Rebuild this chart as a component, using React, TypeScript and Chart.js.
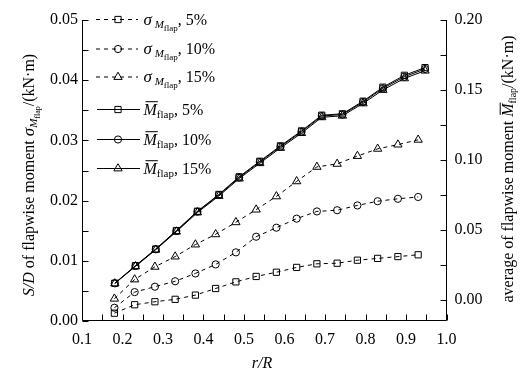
import { useEffect, useRef } from "react";
import { Chart, registerables } from "chart.js";

Chart.register(...registerables);

const rSigma = [0.18, 0.23, 0.28, 0.33, 0.38, 0.43, 0.48, 0.53, 0.58, 0.63, 0.68, 0.73, 0.78, 0.83, 0.88, 0.93];
const rMean = [0.181, 0.232, 0.282, 0.333, 0.385, 0.438, 0.488, 0.539, 0.59, 0.642, 0.692, 0.743, 0.794, 0.843, 0.896, 0.947];

const sigma5 = [0.0013, 0.0027, 0.0032, 0.0036, 0.0043, 0.0054, 0.0065, 0.0074, 0.0081, 0.0089, 0.0095, 0.0096, 0.0101, 0.0104, 0.0107, 0.011];
const sigma10 = [0.0022, 0.0048, 0.0057, 0.0066, 0.0079, 0.0094, 0.0114, 0.014, 0.0155, 0.017, 0.0182, 0.0184, 0.0192, 0.0199, 0.0203, 0.0206];
const sigma15 = [0.0037, 0.0069, 0.009, 0.0107, 0.0127, 0.0144, 0.0164, 0.0185, 0.0207, 0.0232, 0.0256, 0.0261, 0.0274, 0.0286, 0.0293, 0.0301];

const mean5 = [0.012, 0.0245, 0.0364, 0.0496, 0.0634, 0.0754, 0.088, 0.0991, 0.1101, 0.1208, 0.132, 0.133, 0.142, 0.152, 0.1605, 0.166];
const mean10 = [0.0119, 0.0243, 0.0362, 0.0493, 0.0631, 0.075, 0.0875, 0.0986, 0.1095, 0.1202, 0.1314, 0.1325, 0.1414, 0.1512, 0.1595, 0.165];
const mean15 = [0.0118, 0.024, 0.0359, 0.0488, 0.0625, 0.0743, 0.0867, 0.0977, 0.1086, 0.1192, 0.1305, 0.1316, 0.1404, 0.15, 0.1583, 0.1638];

const xTicks = [0.1, 0.2, 0.3, 0.4, 0.5, 0.6, 0.7, 0.8, 0.9, 1.0];
const leftTicks = [0, 0.01, 0.02, 0.03, 0.04, 0.05];
const rightTicks = [0, 0.05, 0.1, 0.15, 0.2];
const pctLabels = ["5%", "10%", "15%"];

const SERIF = '"Liberation Serif", "Times New Roman", serif';
const styles = ["rect", "circle", "triangle"] as const;
const radii = [4.4, 3.6, 4.8];

type Part = { t: string; size: number; italic?: boolean; dy?: number; over?: boolean };

function fontOf(p: Part) {
  return `${p.italic ? "italic " : ""}${p.size}px ${SERIF}`;
}

function richWidth(ctx: CanvasRenderingContext2D, parts: Part[]) {
  let w = 0;
  for (const p of parts) {
    ctx.font = fontOf(p);
    w += ctx.measureText(p.t).width;
  }
  return w;
}

function drawRich(ctx: CanvasRenderingContext2D, parts: Part[], x: number, y: number, center: boolean) {
  let cx = center ? x - richWidth(ctx, parts) / 2 : x;
  ctx.fillStyle = "#000";
  ctx.textBaseline = "alphabetic";
  ctx.textAlign = "left";
  for (const p of parts) {
    ctx.font = fontOf(p);
    const w = ctx.measureText(p.t).width;
    ctx.fillText(p.t, cx, y + (p.dy || 0));
    if (p.over) {
      ctx.save();
      ctx.strokeStyle = "#000";
      ctx.lineWidth = 1;
      ctx.beginPath();
      const oy = y + (p.dy || 0) - p.size * 0.8;
      ctx.moveTo(cx + 2, oy);
      ctx.lineTo(cx + w + 1, oy);
      ctx.stroke();
      ctx.restore();
    }
    cx += w;
  }
}

function drawMarker(ctx: CanvasRenderingContext2D, style: string, x: number, y: number, r: number) {
  ctx.beginPath();
  if (style === "rect") {
    const s = Math.SQRT1_2 * r;
    ctx.rect(x - s, y - s, 2 * s, 2 * s);
  } else if (style === "circle") {
    ctx.arc(x, y, r, 0, Math.PI * 2);
  } else {
    ctx.moveTo(x, y - r);
    ctx.lineTo(x + 0.866 * r, y + 0.5 * r);
    ctx.lineTo(x - 0.866 * r, y + 0.5 * r);
    ctx.closePath();
  }
  ctx.stroke();
}

const decorPlugin = {
  id: "decor",
  afterDraw(chart: any) {
    const ctx: CanvasRenderingContext2D = chart.ctx;
    const { left, right, top, bottom } = chart.chartArea;
    const sx = chart.scales.x;
    const sy = chart.scales.y;
    const sy1 = chart.scales.y1;
    ctx.save();
    ctx.strokeStyle = "#000";
    ctx.lineWidth = 1;
    ctx.setLineDash([]);
    const L = Math.round(left) + 0.5;
    const R = Math.round(right) - 0.5;
    const B = Math.round(bottom) - 0.5;
    const T = Math.round(top);
    ctx.beginPath();
    ctx.moveTo(L, T);
    ctx.lineTo(L, B);
    ctx.lineTo(R, B);
    ctx.lineTo(R, T);
    ctx.stroke();
    const tl = 6;
    ctx.beginPath();
    for (let v = 0.1; v <= 1.0001; v += 0.05) {
      const px = Math.round(sx.getPixelForValue(v)) + 0.5;
      ctx.moveTo(px, B);
      ctx.lineTo(px, B - tl);
    }
    for (let v = 0; v <= 0.05001; v += 0.005) {
      const py = Math.round(sy.getPixelForValue(v)) + 0.5;
      ctx.moveTo(L, py);
      ctx.lineTo(L + tl, py);
    }
    for (let v = 0; v <= 0.20001; v += 0.025) {
      const py = Math.round(sy1.getPixelForValue(v)) + 0.5;
      ctx.moveTo(R, py);
      ctx.lineTo(R - tl, py);
    }
    ctx.stroke();

    // legend
    const rows = [19.5, 49, 77, 109.5, 139.5, 168.5];
    const mx = 118;
    for (let i = 0; i < 6; i++) {
      const y = rows[i];
      const k = i % 3;
      ctx.lineWidth = 1;
      if (i < 3) {
        ctx.setLineDash([4, 4]);
        ctx.beginPath();
        ctx.moveTo(96, y);
        ctx.lineTo(138, y);
        ctx.stroke();
      } else {
        ctx.setLineDash([]);
        ctx.beginPath();
        ctx.moveTo(97, y);
        ctx.lineTo(140, y);
        ctx.stroke();
      }
      ctx.setLineDash([]);
      ctx.fillStyle = "#fff";
      drawMarker(ctx, styles[k], mx, y, radii[k]);
      const parts: Part[] =
        i < 3
          ? [
              { t: "σ", size: 17, italic: true },
              { t: " M", size: 11, italic: true, dy: 3 },
              { t: "flap", size: 9, dy: 6 },
              { t: ", " + pctLabels[k], size: 16 },
            ]
          : [
              { t: "M", size: 16, italic: true, over: true },
              { t: "flap", size: 11, dy: 3 },
              { t: ", " + pctLabels[k], size: 16 },
            ];
      drawRich(ctx, parts, 143.5, y + 5, false);
    }

    // axis titles
    drawRich(ctx, [{ t: "r/R", size: 16, italic: true }], 262, 368, true);

    ctx.save();
    ctx.translate(34, 175);
    ctx.rotate(-Math.PI / 2);
    drawRich(
      ctx,
      [
        { t: "S/D", size: 16, italic: true },
        { t: " of flapwise moment ", size: 16 },
        { t: "σ", size: 17, italic: true },
        { t: "M", size: 11, italic: true, dy: 3 },
        { t: "flap", size: 8, dy: 6 },
        { t: "/(kN·m)", size: 16 },
      ],
      0,
      0,
      true
    );
    ctx.restore();

    ctx.save();
    ctx.translate(513, 169);
    ctx.rotate(-Math.PI / 2);
    drawRich(
      ctx,
      [
        { t: "average of flapwise moment ", size: 16 },
        { t: "M", size: 16, italic: true, over: true },
        { t: "flap", size: 10, dy: 3 },
        { t: "/(kN·m)", size: 16 },
      ],
      0,
      0,
      true
    );
    ctx.restore();
    ctx.restore();
  },
};

export default function App() {
  const ref = useRef<HTMLCanvasElement | null>(null);
  useEffect(() => {
    document.body.style.margin = "0";
    const canvas = ref.current!;
    const mk = (r: number[], v: number[]) => r.map((x, i) => ({ x, y: v[i] }));
    const ds = (label: string, r: number[], v: number[], k: number, dashed: boolean, axis: string) => ({
      label,
      data: mk(r, v),
      showLine: true,
      borderColor: "#000",
      borderWidth: 1,
      borderDash: dashed ? [4, 4] : [],
      pointStyle: styles[k],
      pointRadius: radii[k],
      pointBorderWidth: 1,
      pointBorderColor: "#000",
      pointBackgroundColor: "rgba(0,0,0,0)",
      yAxisID: axis,
      tension: 0,
    });
    const tickFont = { family: SERIF, size: 16 };
    const chart = new Chart(canvas, {
      type: "scatter",
      data: {
        datasets: [
          ds("σ 5%", rSigma, sigma5, 0, true, "y"),
          ds("σ 10%", rSigma, sigma10, 1, true, "y"),
          ds("σ 15%", rSigma, sigma15, 2, true, "y"),
          ds("M 5%", rMean, mean5, 0, false, "y1"),
          ds("M 10%", rMean, mean10, 1, false, "y1"),
          ds("M 15%", rMean, mean15, 2, false, "y1"),
        ],
      },
      options: {
        animation: false,
        responsive: false,
        layout: { padding: { top: 20, left: 0, right: 0, bottom: 0 } },
        plugins: { legend: { display: false }, tooltip: { enabled: false } },
        scales: {
          x: {
            type: "linear",
            min: 0.1,
            max: 1.0,
            afterBuildTicks: (s: any) => {
              s.ticks = xTicks.map((value) => ({ value }));
            },
            afterFit: (s: any) => {
              s.height = 60;
            },
            grid: { display: false, drawTicks: false },
            border: { display: false },
            ticks: { font: tickFont, color: "#000", padding: 9, maxRotation: 0, callback: (v: any) => Number(v).toFixed(1) },
          },
          y: {
            type: "linear",
            position: "left",
            min: 0,
            max: 0.05,
            afterBuildTicks: (s: any) => {
              s.ticks = leftTicks.map((value) => ({ value }));
            },
            afterFit: (s: any) => {
              s.width = 82;
            },
            grid: { display: false, drawTicks: false },
            border: { display: false },
            ticks: { font: tickFont, color: "#000", padding: 4, callback: (v: any) => Number(v).toFixed(2) },
          },
          y1: {
            type: "linear",
            position: "right",
            min: -0.015,
            max: 0.2,
            afterBuildTicks: (s: any) => {
              s.ticks = rightTicks.map((value) => ({ value }));
            },
            afterFit: (s: any) => {
              s.width = 75.5;
            },
            grid: { display: false, drawTicks: false },
            border: { display: false },
            ticks: { font: tickFont, color: "#000", padding: 8, callback: (v: any) => Number(v).toFixed(2) },
          },
        },
      },
      plugins: [decorPlugin],
    } as any);
    return () => chart.destroy();
  }, []);
  return (
    <div style={{ position: "absolute", left: 0, top: 0, width: 522, height: 381, background: "#fff" }}>
      <canvas ref={ref} width={522} height={381} style={{ display: "block" }} />
    </div>
  );
}
